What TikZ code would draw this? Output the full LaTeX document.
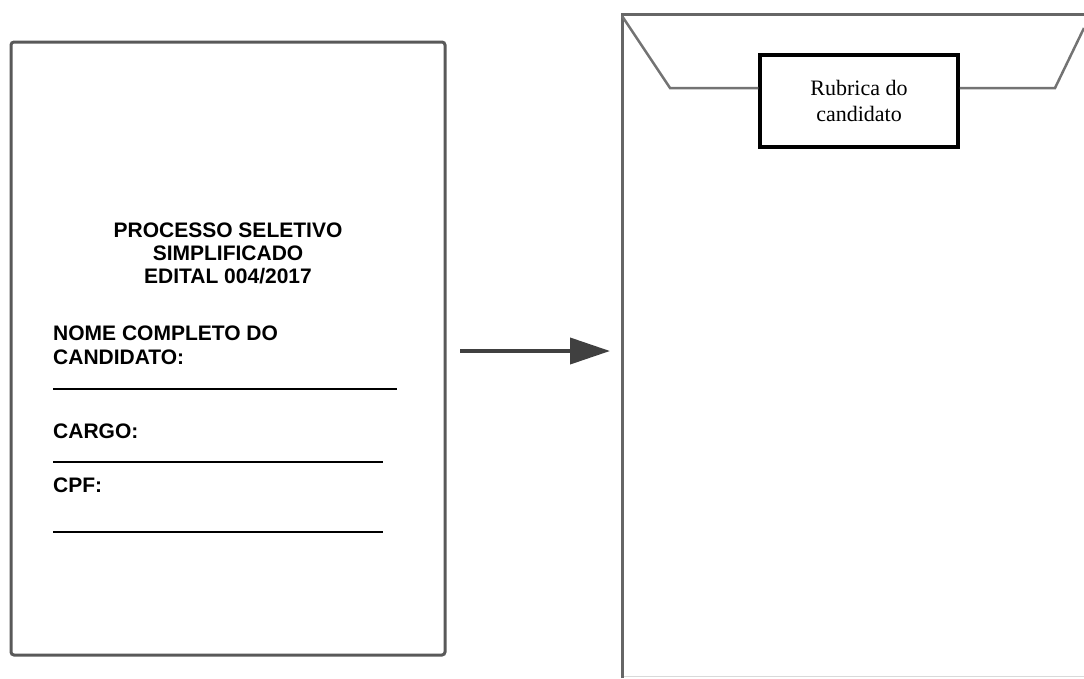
\documentclass[tikz,border=0pt]{standalone}
\usepackage{fontspec}
\setmainfont{Liberation Serif}
\setsansfont{Liberation Sans}
\usetikzlibrary{positioning,arrows.meta}

\tikzset{
  folha/.style={draw=black!65, line width=3pt, rounded corners=3pt},
  envelope/.style={draw=black!60, line width=3pt},
  aba/.style={draw=black!55, line width=2.5pt},
  rotulo/.style={font=\sffamily\bfseries\fontsize{21}{24}\selectfont, inner sep=0pt, anchor=base west},
  titulo/.style={rotulo, anchor=base},
  linha/.style={line width=2.5pt},
  rubrica/.style={draw=black, line width=3.5pt, minimum width=198pt, minimum height=92pt,
    align=center, font=\fontsize{22}{26}\selectfont},
}

\begin{document}
\begin{tikzpicture}[x=1pt,y=-1pt]
	\useasboundingbox (0,0) rectangle (1084,678);

	% folha de identificacao
	\draw[folha] (11,42) rectangle (445,655);
	\node[titulo] (t1) at (228,237) {PROCESSO SELETIVO};
	\node[titulo] (t2) at (228,260) {SIMPLIFICADO};
	\node[titulo] (t3) at (228,283) {EDITAL 004/2017};

	\node[rotulo] (nome) at (53,340) {NOME COMPLETO DO};
	\node[rotulo] (cand) at (53,364) {CANDIDATO:};
	\draw[linha] (53,389) -- (397,389);
	\node[rotulo] (cargo) at (53,438) {CARGO:};
	\draw[linha] (53,462) -- (383,462);
	\node[rotulo] (cpf) at (53,492) {CPF:};
	\draw[linha] (53,532) -- (383,532);

	% seta
	\coordinate (ini) at (460,351);
	\coordinate (fim) at (610,351);
	\draw[line width=4pt, black!75, -{Triangle[length=40pt,width=26pt]}] (ini) -- (fim);

	% envelope
	\draw[envelope] (622,678) -- (622,14) -- (1084,14);
	\draw[black!15, line width=1pt] (624,676) -- (1084,676);
	\node[rubrica] (rub) at (859,101) {Rubrica do\\candidato};
	\draw[aba] (622,16) -- (670,88) -- (rub.west |- 0,88);
	\draw[aba] (rub.east |- 0,88) -- (1055,88) -- (1084,28);
\end{tikzpicture}
\end{document}
